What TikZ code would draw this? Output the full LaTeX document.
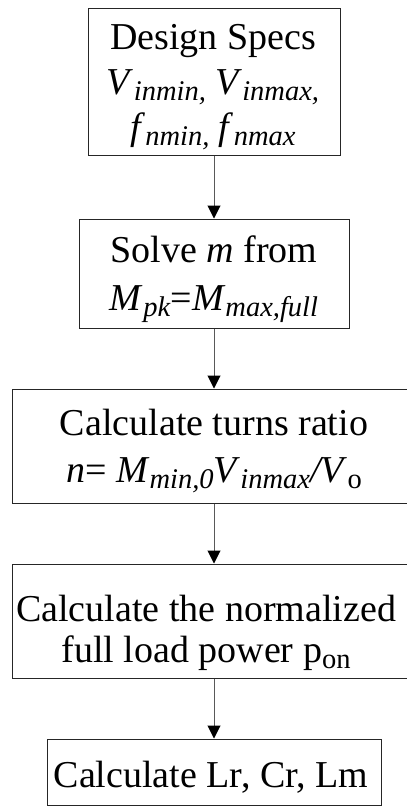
\documentclass[tikz,border=0pt]{standalone}
\usepackage{fontspec}
\setmainfont{Liberation Serif}
\usetikzlibrary{arrows.meta}
\newcommand{\sbs}[1]{\raisebox{-6pt}{\fontsize{28.5}{28.5}\selectfont #1}}
\tikzset{
  box/.style={draw=black!85, line width=1pt, inner sep=0pt, rectangle},
  txt/.style={anchor=base, inner sep=0pt, font=\fontsize{38}{44}\selectfont},
  arr/.style={draw=black!65, line width=1pt, -{Triangle[length=13pt,width=13pt,fill=black,color=black]}}
}
\begin{document}
\begin{tikzpicture}[x=1pt,y=-1pt]
\useasboundingbox (0,0) rectangle (407,807);
\clip (0,0) rectangle (407,807);
\node[box, minimum width=252pt, minimum height=147pt] (b1) at (214,81.5) {};
\node[box, minimum width=270pt, minimum height=109pt] (b2) at (214,273.5) {};
\node[box, minimum width=404pt, minimum height=114pt] (b3) at (214,446) {};
\node[box, minimum width=404pt, minimum height=114pt] (b4) at (214,621) {};
\node[box, minimum width=334pt, minimum height=66pt] (b5) at (214,772) {};

\node[txt] (t1a) at (213,49) {Design Specs};
\node[txt] (t1b) at (213,94) {\textit{V}\sbs{\textit{inmin,}} \textit{V}\sbs{\textit{inmax,}}};
\node[txt] (t1c) at (213,139) {\textit{f}\sbs{\textit{nmin,}} \textit{f}\sbs{\textit{nmax}}};

\node[txt] (t2a) at (214,262) {Solve \textit{m} from};
\node[txt] (t2b) at (214,310) {\textit{M}\sbs{\textit{pk}}=\textit{M}\sbs{\textit{max,full}}};

\node[txt] (t3a) at (214,435) {Calculate turns ratio};
\node[txt] (t3b) at (214,482) {\textit{n}= \textit{M}\sbs{\textit{min,0}}\textit{V}\sbs{\textit{inmax}}\textit{/V}\sbs{o}};

\node[txt] (t4a) at (206,621) {Calculate the normalized};
\node[txt] (t4b) at (206,662) {full load power p\sbs{on}};

\node[txt] (t5) at (211,787) {Calculate Lr, Cr, Lm};

\draw[arr] (b1.south) -- (b2.north);
\draw[arr] (b2.south) -- (b3.north);
\draw[arr] (b3.south) -- (b4.north);
\draw[arr] (b4.south) -- (b5.north);
\end{tikzpicture}
\end{document}
